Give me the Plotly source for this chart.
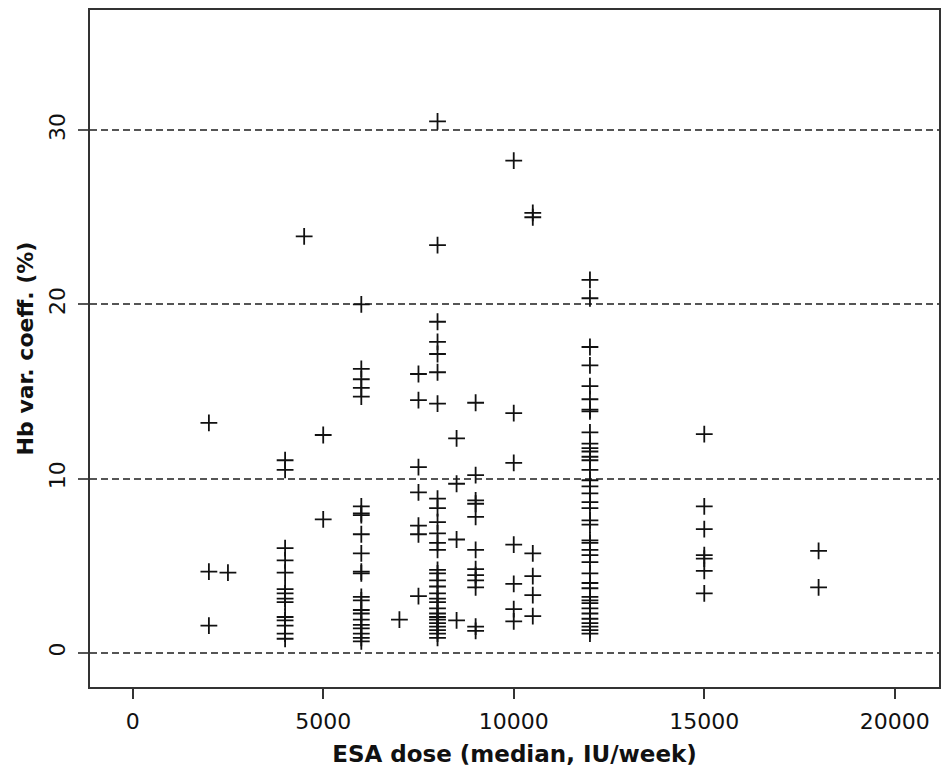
import plotly.graph_objects as go

# ESA dose groups (IU/week) and Hb variation coefficients (%)
dose_2000 = [13.2, 4.65, 1.55]
dose_2500 = [4.6]
dose_4000 = [11.05, 10.5, 6.0, 5.3, 4.6, 3.65, 3.4, 3.1, 2.9, 2.05, 1.85, 1.55, 1.1, 0.8]
dose_4500 = [23.9]
dose_5000 = [12.5, 7.65]
dose_6000 = [20.0, 16.3, 15.7, 15.2, 14.7, 8.4, 8.0, 7.9, 6.8, 5.7, 4.65, 4.55, 3.2, 3.0,
             2.45, 2.25, 1.9, 1.6, 1.4, 1.1, 0.85, 0.65]
dose_7000 = [1.9]
dose_7500 = [16.0, 14.5, 10.65, 9.2, 7.3, 6.8, 3.25]
dose_8000 = [30.5, 23.4, 19.0, 17.85, 17.15, 16.1, 14.3, 8.85, 8.3, 7.5, 6.85, 6.3, 5.9,
             4.75, 4.55, 4.15, 3.8, 3.4, 3.1, 2.9, 2.55, 2.25, 2.05, 1.9, 1.7, 1.5, 1.3, 1.1, 0.85]
dose_8500 = [12.3, 9.7, 6.5, 1.85]
dose_9000 = [14.35, 10.2, 8.75, 8.55, 7.8, 5.9, 4.8, 4.45, 4.15, 3.75, 1.5, 1.25]
dose_10000 = [28.25, 13.75, 10.9, 6.2, 3.95, 2.5, 1.8]
dose_10500 = [25.25, 25.0, 5.7, 4.4, 3.3, 2.1]
dose_12000 = [21.4, 20.35, 17.55, 16.5, 15.3, 14.55, 13.95, 13.85, 12.65, 12.0, 11.75, 11.55,
              11.25, 11.05, 10.5, 9.9, 9.55, 9.15, 8.65, 8.3, 7.6, 7.35, 6.45, 6.3, 5.9, 5.6,
              5.2, 4.55, 4.0, 3.7, 3.2, 3.0, 2.85, 2.55, 2.25, 1.95, 1.7, 1.5, 1.3, 1.1]
dose_15000 = [12.55, 8.4, 7.1, 5.6, 5.4, 4.7, 3.4]
dose_18000 = [5.85, 3.75]

groups = [
    (2000, dose_2000), (2500, dose_2500), (4000, dose_4000), (4500, dose_4500),
    (5000, dose_5000), (6000, dose_6000), (7000, dose_7000), (7500, dose_7500),
    (8000, dose_8000), (8500, dose_8500), (9000, dose_9000), (10000, dose_10000),
    (10500, dose_10500), (12000, dose_12000), (15000, dose_15000), (18000, dose_18000),
]

x_vals, y_vals = [], []
for d, ys in groups:
    x_vals += [d] * len(ys)
    y_vals += ys

x_ticks = [0, 5000, 10000, 15000, 20000]
y_ticks = [0, 10, 20, 30]

fig = go.Figure()
fig.add_trace(go.Scatter(
    x=x_vals, y=y_vals, mode="markers",
    marker=dict(symbol="cross-thin-open", size=12,
                line=dict(color="#111", width=1.8), color="#111"),
    showlegend=False,
))

fam = "DejaVu Sans, Arial, sans-serif"
font = dict(family=fam, size=22, color="#111")

fig.update_layout(
    width=950, height=771,
    margin=dict(l=82, r=19, t=2, b=92, autoexpand=False),
    paper_bgcolor="white", plot_bgcolor="white",
    font=font,
    xaxis=dict(
        range=[-1120, 21160], tickvals=x_ticks, ticktext=[str(v) for v in x_ticks],
        showgrid=False, zeroline=False,
        showline=True, mirror=True, linecolor="#333", linewidth=2,
        ticks="outside", ticklen=10, tickwidth=1.5, tickcolor="#333",
        tickfont=font, ticklabelstandoff=4,
        title=dict(text="<b>ESA dose (median, IU/week)</b>",
                   font=dict(size=23, family=fam), standoff=12),
    ),
    yaxis=dict(
        range=[-1.97, 36.9], tickvals=y_ticks, ticktext=[str(v) for v in y_ticks],
        showgrid=True, gridcolor="#555", gridwidth=1.5, griddash="7px,4px",
        zeroline=False,
        showline=True, mirror=True, linecolor="#333", linewidth=2,
        ticks="outside", ticklen=10, tickwidth=1.5, tickcolor="#555",
        tickangle=-90, tickfont=font, ticklabelstandoff=4,
        title=dict(text="<b>Hb var. coeff. (%)</b>",
                   font=dict(size=22, family=fam), standoff=6),
    ),
)

fig.write_html("out.html")
